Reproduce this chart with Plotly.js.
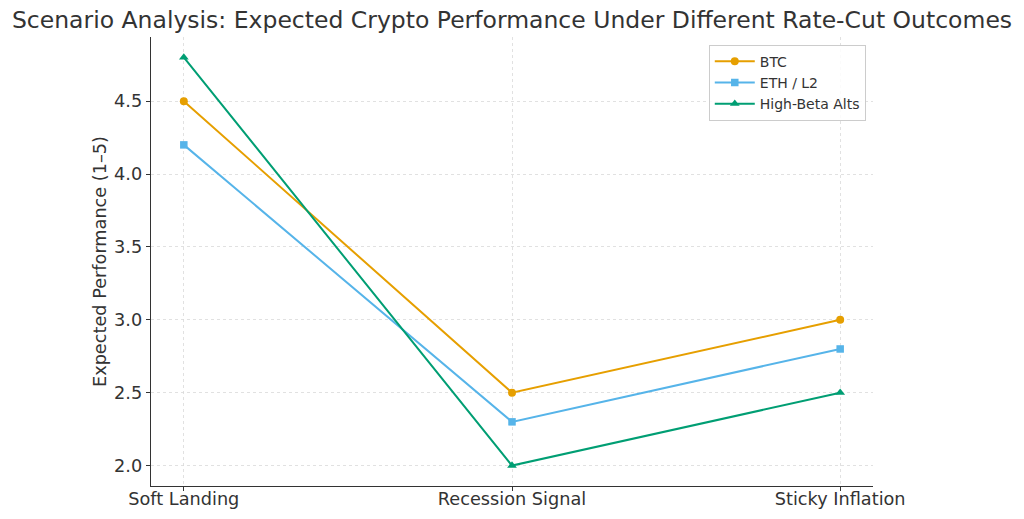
<!DOCTYPE html>
<html>
<head>
<meta charset="utf-8">
<script src="https://cdn.plot.ly/plotly-3.0.1.min.js"></script>
<style>html,body{margin:0;padding:0;background:#fff;}#chart{width:1024px;height:519px;}</style>
</head>
<body>
<div id="chart"></div>
<script>
const scenarios = ["Soft Landing", "Recession Signal", "Sticky Inflation"];
const btc = [4.5, 2.5, 3.0];
const eth = [4.2, 2.3, 2.8];
const alts = [4.8, 2.0, 2.5];
const yTicks = [2.0, 2.5, 3.0, 3.5, 4.0, 4.5];
const yTickText = ["2.0", "2.5", "3.0", "3.5", "4.0", "4.5"];

const F = "DejaVu Sans, sans-serif";
const mk = (name, y, color, symbol, size) => ({
  x: scenarios, y: y, name: name, type: "scatter", mode: "lines+markers",
  line: {color: color, width: 2}, marker: {color: color, symbol: symbol, size: size}
});
const data = [
  mk("BTC", btc, "#E69F00", "circle", 8),
  mk("ETH / L2", eth, "#56B4E9", "square", 7.5),
  mk("High-Beta Alts", alts, "#009E73", "triangle-up", 8.5)
];
const layout = {
  width: 1024, height: 519,
  margin: {l: 151, r: 151, t: 37, b: 33},
  paper_bgcolor: "#fff", plot_bgcolor: "#fff",
  font: {family: F, color: "#333"},
  title: {text: "Scenario Analysis: Expected Crypto Performance Under Different Rate-Cut Outcomes",
          font: {size: 23.5, family: F, color: "#333"}, x: 0.5, xanchor: "center", y: 0.962, yanchor: "middle"},
  xaxis: {
    type: "category", range: [-0.1, 2.1], showline: true, linecolor: "#333", linewidth: 1.3,
    ticks: "outside", ticklen: 4, tickcolor: "#333", showgrid: true, gridcolor: "#dadada",
    griddash: "3px,3px", gridwidth: 0.8, tickfont: {size: 17.7, family: F, color: "#333"}, zeroline: false,
    ticklabelstandoff: -8
  },
  yaxis: {
    range: [1.86, 4.94], showline: true, linecolor: "#333", linewidth: 1.3,
    ticks: "outside", ticklen: 4, tickcolor: "#333", showgrid: true, gridcolor: "#dadada",
    griddash: "3px,3px", gridwidth: 0.8, tickvals: yTicks, ticktext: yTickText,
    tickfont: {size: 17.7, family: F, color: "#333"}, zeroline: false,
    title: {text: "Expected Performance (1–5)", font: {size: 17.7, family: F, color: "#333"}, standoff: 2}
  },
  legend: {
    x: 0.99, xanchor: "right", y: 0.983, yanchor: "top",
    bgcolor: "rgba(255,255,255,0.85)", bordercolor: "#ccc", borderwidth: 1,
    font: {size: 14, family: F, color: "#333"}, tracegroupgap: 0, itemwidth: 40
  },
  showlegend: true
};
Plotly.newPlot("chart", data, layout, {displayModeBar: false, staticPlot: true});
</script>
</body>
</html>
